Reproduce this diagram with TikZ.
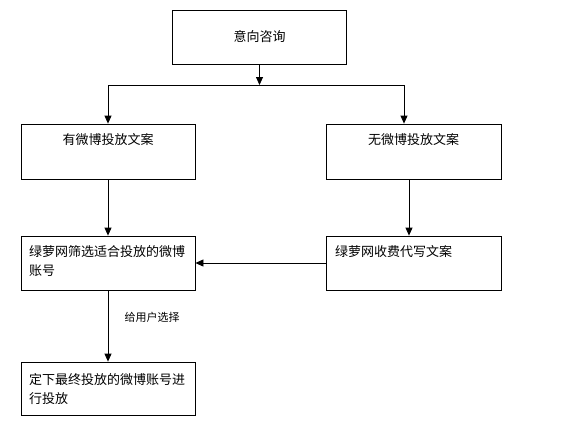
\documentclass[tikz,border=0pt]{standalone}
\usepackage{fontspec}
\setmainfont{Noto Sans CJK SC}
\usepackage{tikz}
\usetikzlibrary{positioning, arrows.meta}

\tikzset{
  box/.style={draw, line width=0.8pt, minimum width=174pt, minimum height=54pt, inner sep=0pt},
  txt/.style={inner sep=0pt, align=left, font=\fontsize{13}{19.5}\selectfont},
  arr/.style={line width=0.8pt, -{Triangle[width=7pt,length=8pt]}}
}

\begin{document}
\begin{tikzpicture}[x=1pt, y=-1pt]
\useasboundingbox (0,0) rectangle (572,434);

% --- Boxes ---
\node[box] (consult) at (259.5,37) {};
\node[box, minimum height=55pt] (hasCopy) at (108,151.5) {};
\node[box, minimum width=175pt, minimum height=55pt] (noCopy) at (413.5,151.5) {};
\node[box] (select) at (108,263) {};
\node[box, minimum width=175pt] (write) at (413.5,263) {};
\node[box, minimum height=53pt] (final) at (108,388.5) {};

% --- Texts ---
\node[txt] (consultText) at (consult) {意向咨询};
\node[txt] (hasText) at (108,140) {有微博投放文案};
\node[txt] (noText) at (413.5,140) {无微博投放文案};
\node[txt, anchor=north west] (selectText) at (29,245) {绿萝网筛选适合投放的微博\\账号};
\node[txt, anchor=north west] (writeText) at (335,245) {绿萝网收费代写文案};
\node[txt, anchor=north west] (finalText) at (29,373) {定下最终投放的微博账号进\\行投放};
\node[txt, font=\fontsize{11}{12}\selectfont] (choose) at (152,317) {给用户选择};

% --- Connectors ---
\coordinate (split) at (259.5,85);
\coordinate (jl) at (108,85);
\coordinate (jr) at (404,85);
\draw[arr] (consult.south) -- (split);
\draw[line width=0.8pt] (jl) -- (jr);
\draw[arr] (jl) -- (jl |- hasCopy.north);
\draw[arr] (jr) -- (jr |- noCopy.north);
\draw[arr] (hasCopy.south) -- (select.north);
\draw[arr] ([xshift=-4.5pt]noCopy.south) -- ([xshift=-4.5pt]write.north);
\draw[arr] (write.west) -- (select.east);
\draw[arr] (select.south) -- (final.north);

\end{tikzpicture}
\end{document}
